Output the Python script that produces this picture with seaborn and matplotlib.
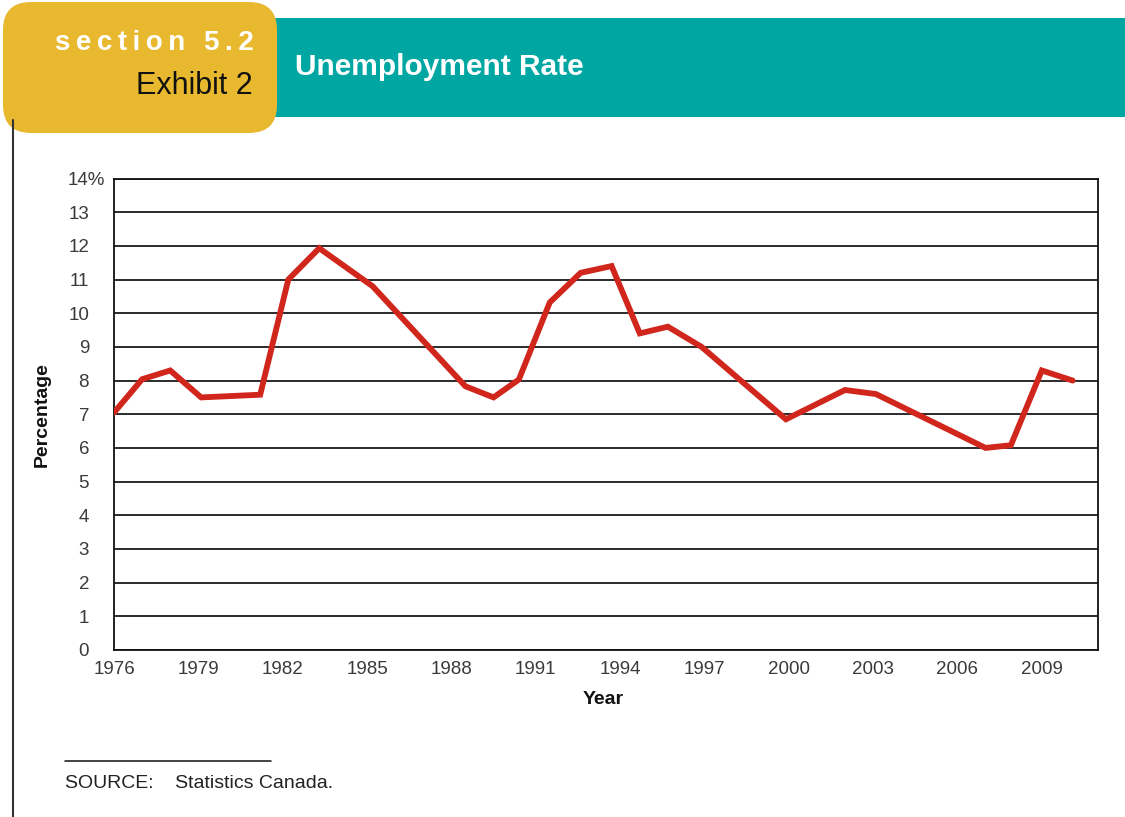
import matplotlib
matplotlib.use("Agg")
import matplotlib.pyplot as plt
import seaborn as sns
import pandas as pd
from matplotlib.patches import FancyBboxPatch, Rectangle
from matplotlib.lines import Line2D
from matplotlib.transforms import IdentityTransform, ScaledTranslation

# ---- data (line vertices) ----
year_pos = [1976.0, 1977.0, 1978.0, 1979.1, 1981.2, 1982.2, 1983.3, 1985.2,
            1988.5, 1989.5, 1990.4, 1991.5, 1992.6, 1993.7, 1994.7, 1995.7,
            1996.9, 1999.9, 2002.0, 2003.1, 2007.0, 2007.9, 2009.0, 2010.1]
rate = [7.05, 8.04, 8.3, 7.5, 7.58, 11.0, 11.93, 10.8,
        7.83, 7.5, 8.03, 10.32, 11.2, 11.4, 9.4, 9.6,
        9.0, 6.85, 7.72, 7.6, 6.0, 6.08, 8.3, 8.0]
tick_years = list(range(1976, 2011))
label_years = list(range(1976, 2010, 3))
y_ticks = list(range(0, 15))
y_tick_labels = [str(v) for v in range(14)] + ["14%"]

title = "Unemployment Rate"
section_text = "section 5.2"
exhibit_text = "Exhibit 2"
source_text = "SOURCE:    Statistics Canada."

sns.set_theme(style="white")
plt.rcParams["font.family"] = ["Liberation Sans", "DejaVu Sans"]

W, H = 1125, 817
fig = plt.figure(figsize=(W / 100, H / 100), dpi=100)
fig.patch.set_facecolor("white")
ident = IdentityTransform()

# ---- header ----
teal = Rectangle((270, H - 117), 855, 99, transform=ident,
                 facecolor="#00A7A2", edgecolor="none")
fig.add_artist(teal)
yellow = FancyBboxPatch((3, H - 133), 274, 131,
                        boxstyle="round,pad=0,rounding_size=28",
                        transform=ident, facecolor="#E8B92F", edgecolor="none")
fig.add_artist(yellow)
fig.text(254, H - 43, "\u2009".join(list(section_text)), transform=ident,
         ha="right", va="center", color="white", fontweight="bold", fontsize=20)
fig.text(253, H - 86, exhibit_text, transform=ident, ha="right", va="center",
         color="#111111", fontsize=22)
fig.text(295, H - 67, title, transform=ident, ha="left", va="center",
         color="white", fontweight="bold", fontsize=21.5)

# vertical rule at left
fig.add_artist(Line2D([13, 13], [0, H - 120], transform=ident,
                      color="#333333", lw=1.5))

# ---- chart ----
ax = fig.add_axes([114 / W, (H - 650) / H, (1098 - 114) / W, (650 - 178.5) / H])
df = pd.DataFrame({"Year": year_pos, "Rate": rate})
sns.lineplot(data=df, x="Year", y="Rate", sort=False, estimator=None,
             color="#D0261C", lw=4.2, ax=ax, zorder=3, solid_joinstyle="miter")

ax.set_xlim(1976, 2011)
ax.set_ylim(0, 14)
ax.set_xticks(tick_years)
ax.set_xticklabels([str(y) if y in label_years else "" for y in tick_years])
ax.set_yticks(y_ticks)
ax.set_yticklabels(y_tick_labels)
ax.tick_params(axis="x", direction="in", length=6, width=1, color="#222222",
               labelsize=13.5, labelcolor="#3a3a3a", pad=8)
ax.tick_params(axis="y", length=0, labelsize=13.5, labelcolor="#3a3a3a", pad=18)
# let the "%" of the top label hang past the column of numbers
top_lbl = ax.get_yticklabels()[-1]
top_lbl.set_transform(top_lbl.get_transform() +
                      ScaledTranslation(0.16, 0, fig.dpi_scale_trans))
ax.yaxis.grid(True, color="#1a1a1a", lw=1.3)
ax.xaxis.grid(False)
for s in ax.spines.values():
    s.set_visible(True)
    s.set_color("#111111")
    s.set_linewidth(1.3)

ax.set_xlabel("Year", fontweight="bold", fontsize=14, color="#111111")
ax.xaxis.set_label_coords(0.497, -0.087)
ax.set_ylabel("Percentage", fontweight="bold", fontsize=14, color="#111111")
ax.yaxis.set_label_coords(-0.064, 0.5)

# ---- source note ----
fig.add_artist(Line2D([65, 271], [H - 761, H - 761], transform=ident,
                      color="#111111", lw=1.1))
fig.text(65, H - 784, source_text, transform=ident, ha="left", va="center",
         color="#222222", fontsize=14)

fig.savefig("out.png", dpi=100)
